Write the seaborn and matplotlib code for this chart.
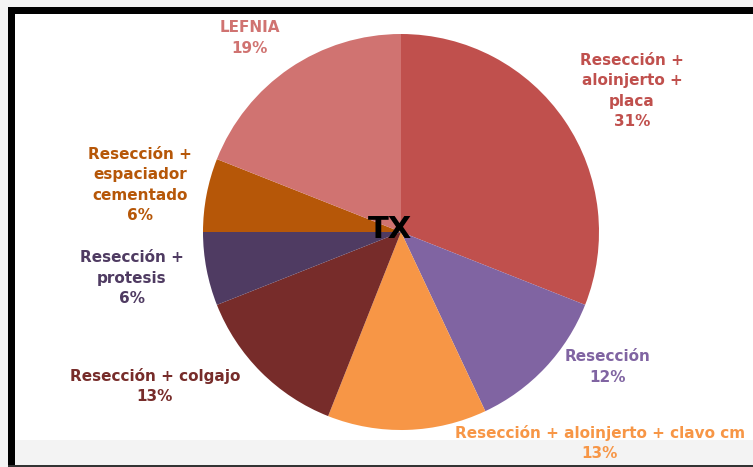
import matplotlib
matplotlib.use("Agg")
import matplotlib.pyplot as plt
from matplotlib.patches import Rectangle
import seaborn as sns

categories = ["Resección +\naloinjerto +\nplaca", "Resección", "Resección + aloinjerto + clavo cm",
              "Resección + colgajo", "Resección +\nprotesis", "Resección +\nespaciador\ncementado", "LEFNIA"]
values = [31, 12, 13, 13, 6, 6, 19]
colors = ["#C0504D", "#8064A2", "#F79646", "#772C2A", "#4F3B62", "#B65708", "#D07371"]
title = "TX"

sns.set_theme(style="white")
plt.rcParams['font.family'] = ['DejaVu Sans']

W, H = 753, 467
fig = plt.figure(figsize=(W / 100, H / 100), dpi=100)
fig.patch.set_facecolor("#FFFFFF")
ax = fig.add_axes([0, 0, 1, 1])

# frame decorations
ax.add_patch(Rectangle((0, 0), W, H, facecolor="#F4F4F4", edgecolor="none", zorder=0))
ax.add_patch(Rectangle((15, 2), W - 15, H - 16, facecolor="white", edgecolor="none", zorder=0))
ax.add_patch(Rectangle((15, 2), W - 15, 25, facecolor="#F3F3F3", edgecolor="none", zorder=0))
ax.add_patch(Rectangle((8, 0), 7, H - 7, facecolor="black", edgecolor="none", zorder=1))
ax.add_patch(Rectangle((8, H - 14), W - 8, 7, facecolor="black", edgecolor="none", zorder=1))
ax.add_patch(Rectangle((8, 0), W - 8, 2, facecolor="#333333", edgecolor="none", zorder=1))

cx, cy, r = 401, H - 232, 198
wedges, _ = ax.pie(values, colors=colors, startangle=90, counterclock=False,
                   center=(cx, cy), radius=r, frame=True,
                   wedgeprops=dict(linewidth=0, edgecolor="none"))
ax.set_xlim(0, W)
ax.set_ylim(0, H)
ax.set_axis_off()

label_pos = [(632, 91), (608, 367), (600, 443), (155, 386), (132, 278), (140, 185), (250, 38)]
for lab, v, col, (x, y) in zip(categories, values, colors, label_pos):
    ax.text(x, H - y, f"{lab}\n{v}%", color=col, ha="center", va="center",
            fontsize=11, fontweight="bold", linespacing=1.45, zorder=5)

ax.text(390, H - 230, title, color="black", ha="center", va="center",
        fontsize=22, fontweight="bold", zorder=5)

fig.savefig("out.png", dpi=100)
